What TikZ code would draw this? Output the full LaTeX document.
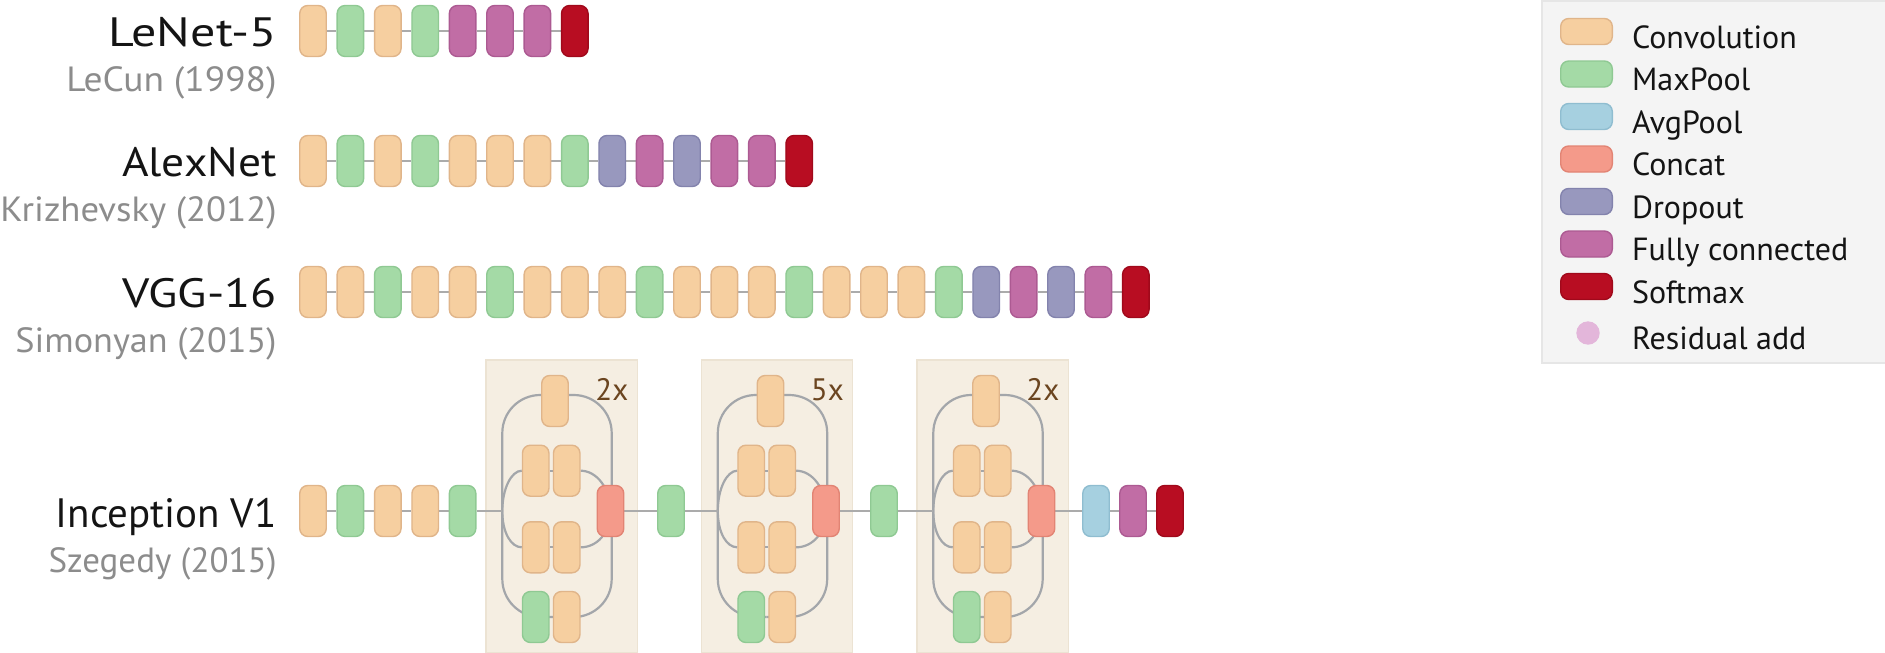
\documentclass[tikz,border=0pt]{standalone}
\usepackage{graphicx}
\usepackage{fontspec}
\setmainfont{PT Sans}

% layer colours
\definecolor{cConv}{HTML}{F6CFA0}\definecolor{cConvD}{HTML}{E0B58A}
\definecolor{cPool}{HTML}{A4DAA6}\definecolor{cPoolD}{HTML}{8FC993}
\definecolor{cAvg}{HTML}{A6D0E0}\definecolor{cAvgD}{HTML}{8FBDD0}
\definecolor{cCat}{HTML}{F49A8A}\definecolor{cCatD}{HTML}{E28474}
\definecolor{cDrop}{HTML}{9898BE}\definecolor{cDropD}{HTML}{8383AD}
\definecolor{cFc}{HTML}{C16DA5}\definecolor{cFcD}{HTML}{AC5A92}
\definecolor{cSoft}{HTML}{B80D22}\definecolor{cSoftD}{HTML}{A0091B}
\definecolor{cRes}{HTML}{E3B6DA}
% other colours
\definecolor{cLink}{HTML}{ABABAB}
\definecolor{cLoop}{HTML}{A3A6AA}
\definecolor{cMod}{HTML}{F5EEE2}\definecolor{cModD}{HTML}{ECE3D3}
\definecolor{cLeg}{HTML}{F4F4F4}\definecolor{cLegD}{HTML}{E6E6E6}
\definecolor{cTitle}{HTML}{141414}
\definecolor{cSub}{HTML}{8C8C8C}
\definecolor{cRep}{HTML}{6B4520}

\pgfdeclarelayer{back}
\pgfdeclarelayer{wires}
\pgfsetlayers{back,wires,main}

% a row of layer blocks, #1 prefix, #2 y, #3 list of block styles
\newcommand\netrow[3]{%
  \foreach \t [count=\i from 0] in {#3} {%
    \edef\mk{\noexpand\node[\t] (#1\i) at ({313+37.4*\i},#2) {};}\mk}}
% connectors along a row, #1 prefix, #2 index of last block
\newcommand\netlinks[2]{%
  \begin{pgfonlayer}{wires}
  \foreach \i [evaluate=\i as \j using int(\i+1)] in {0,...,\numexpr#2-1\relax}
    \draw[link] (#1\i) -- (#1\j);
  \end{pgfonlayer}}
% one inception module, #1 prefix, #2 shift, #3 repeat label
\newcommand\incmodule[3]{%
  \begin{scope}[xshift=#2]
    \begin{pgfonlayer}{back}
      \node[modbox] (#1box) at (561.65,506.3) {};
    \end{pgfonlayer}
    \node[conv] (#1t) at (555,401) {};
    \node[conv] (#1a1) at (535.7,470.7) {};
    \node[conv] (#1a2) at (566.7,470.7) {};
    \node[conv] (#1b1) at (535.7,547.3) {};
    \node[conv] (#1b2) at (566.7,547.3) {};
    \node[pool] (#1c1) at (535.7,617) {};
    \node[conv] (#1c2) at (566.7,617) {};
    \node[concat] (#1cat) at (610.5,511) {};
    \coordinate (#1in) at (502.3,511);
    \node[rep] (#1rep) at (595,400) {#3};
    \begin{pgfonlayer}{wires}
      \draw[loop, rounded corners=19pt] (555,395) -- (502.3,395) -- (502.3,617) -- (551,617);
      \draw[loop, rounded corners=19pt] (555,395) -- (611.7,395) -- (611.7,617) -- (551,617);
      \draw[loop] (#1in) .. controls (502.3,488.8) and (511.3,470.7) .. (#1a1.west);
      \draw[loop] (#1in) .. controls (502.3,533.2) and (511.3,547.3) .. (#1b1.west);
      \draw[loop] (#1a2.east) .. controls (596.8,470.7) and (610.5,488.8) .. (#1cat.center);
      \draw[loop] (#1b2.east) .. controls (596.8,547.3) and (610.5,533.2) .. (#1cat.center);
      \draw[loop] (#1a1) -- (#1a2);
      \draw[loop] (#1b1) -- (#1b2);
    \end{pgfonlayer}
  \end{scope}}

\begin{document}
\begin{tikzpicture}[x=0.5pt,y=-0.5pt,
  blk/.style={rectangle, rounded corners=4pt, minimum width=13.25pt,
    minimum height=25.5pt, inner sep=0pt, line width=0.7pt},
  conv/.style={blk, fill=cConv, draw=cConvD},
  pool/.style={blk, fill=cPool, draw=cPoolD},
  avg/.style={blk, fill=cAvg, draw=cAvgD},
  concat/.style={blk, fill=cCat, draw=cCatD},
  drop/.style={blk, fill=cDrop, draw=cDropD},
  fc/.style={blk, fill=cFc, draw=cFcD},
  soft/.style={blk, fill=cSoft, draw=cSoftD},
  swatch/.style={minimum width=25.8pt, minimum height=13pt, rounded corners=4pt},
  link/.style={draw=cLink, line width=1pt},
  loop/.style={draw=cLoop, line width=1.1pt},
  modbox/.style={rectangle, fill=cMod, draw=cModD, line width=0.6pt,
    minimum width=75.65pt, minimum height=146.3pt, inner sep=0pt},
  title/.style={anchor=base east, inner sep=0pt, text=cTitle,
    font=\fontsize{20.5}{24}\selectfont},
  sub/.style={anchor=base east, inner sep=0pt, text=cSub,
    font=\fontsize{17.5}{21}\selectfont},
  legtext/.style={anchor=base west, inner sep=0pt, text=cTitle,
    font=\fontsize{16}{19}\selectfont},
  rep/.style={anchor=base west, inner sep=0pt, text=cRep,
    font=\fontsize{15.5}{18}\selectfont},
]
\useasboundingbox (0,0) rectangle (1885,653);

% ---------- LeNet-5 ----------
\node[title] (tLe) at (277,46.5) {\scalebox{1.22}[1]{LeNet-5}};
\node[sub] (sLe) at (277,91) {\scalebox{1.07}[1]{LeCun (1998)}};
\netrow{L}{31}{conv,pool,conv,pool,fc,fc,fc,soft}
\netlinks{L}{7}

% ---------- AlexNet ----------
\node[title] (tAl) at (277,176.5) {\scalebox{1.11}[1]{AlexNet}};
\node[sub] (sAl) at (277,221) {\scalebox{1.05}[1]{Krizhevsky (2012)}};
\netrow{A}{161}{conv,pool,conv,pool,conv,conv,conv,pool,drop,fc,drop,fc,fc,soft}
\netlinks{A}{13}

% ---------- VGG-16 ----------
\node[title] (tVg) at (277,307.5) {\scalebox{1.17}[1]{VGG-16}};
\node[sub] (sVg) at (277,352) {\scalebox{1.035}[1]{Simonyan (2015)}};
\netrow{V}{292}{conv,conv,pool,conv,conv,pool,conv,conv,conv,pool,conv,conv,conv,pool,conv,conv,conv,pool,drop,fc,drop,fc,soft}
\netlinks{V}{22}

% ---------- Inception V1 ----------
\node[title] (tIn) at (277,527.5) {Inception V1};
\node[sub] (sIn) at (277,572) {Szegedy (2015)};
\netrow{I}{511}{conv,pool,conv,conv,pool}
\netlinks{I}{4}
\incmodule{ma}{0pt}{2x}
\incmodule{mb}{107.75pt}{5x}
\incmodule{mc}{215.5pt}{2x}
\node[pool] (g1) at (671,511) {};
\node[pool] (g2) at (884,511) {};
\node[avg] (ap) at (1096,511) {};
\node[fc] (fl) at (1133,511) {};
\node[soft] (sm) at (1170,511) {};
\begin{pgfonlayer}{wires}
  \draw[link] (I4) -- (main);
  \draw[link] (macat) -- (g1);
  \draw[link] (g1) -- (mbin);
  \draw[link] (mbcat) -- (g2);
  \draw[link] (g2) -- (mcin);
  \draw[link] (mccat) -- (ap);
  \draw[link] (ap) -- (fl);
  \draw[link] (fl) -- (sm);
\end{pgfonlayer}

% ---------- legend ----------
\begin{pgfonlayer}{back}
  \path[fill=cLeg, draw=cLegD, line width=0.6pt] (1542,1) rectangle (1895,363);
\end{pgfonlayer}
\node[conv, swatch] (kConv) at (1586.5,31.5) {};
\node[pool, swatch] (kPool) at (1586.5,74) {};
\node[avg, swatch] (kAvg) at (1586.5,116.5) {};
\node[concat, swatch] (kCat) at (1586.5,159) {};
\node[drop, swatch] (kDrop) at (1586.5,201.5) {};
\node[fc, swatch] (kFc) at (1586.5,244) {};
\node[soft, swatch] (kSoft) at (1586.5,286.5) {};
\node[circle, fill=cRes, minimum size=11.7pt, inner sep=0pt] (kRes) at (1588,333) {};
\node[legtext] at (1631.7,48) {Convolution};
\node[legtext] at (1631.7,90.5) {MaxPool};
\node[legtext] at (1631.7,133) {AvgPool};
\node[legtext] at (1631.7,175.5) {Concat};
\node[legtext] at (1631.7,218) {Dropout};
\node[legtext] at (1631.7,260.5) {Fully connected};
\node[legtext] at (1631.7,303) {Softmax};
\node[legtext] at (1631.7,349.5) {Residual add};
\end{tikzpicture}
\end{document}
